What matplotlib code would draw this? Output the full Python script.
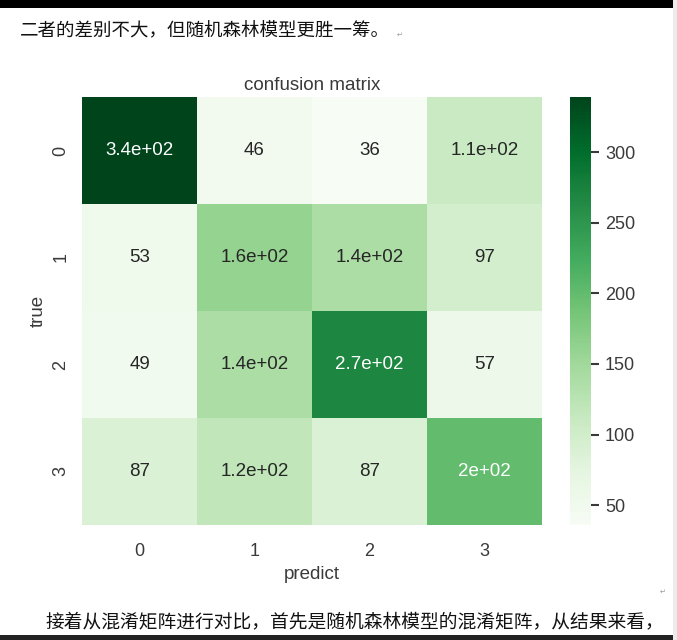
import matplotlib
matplotlib.use("Agg")
import matplotlib.pyplot as plt
import seaborn as sns
import numpy as np
from matplotlib.patches import Rectangle

# ---- data ----
labels = ["0", "1", "2", "3"]
row0 = [339, 46, 36, 110]
row1 = [53, 160, 140, 97]
row2 = [49, 140, 270, 57]
row3 = [87, 120, 87, 200]
cbar_ticks = [50, 100, 150, 200, 250, 300]
title = "confusion matrix"
xlabel = "predict"
ylabel = "true"
text_top = "二者的差别不大，但随机森林模型更胜一筹。"
text_bottom = "接着从混淆矩阵进行对比，首先是随机森林模型的混淆矩阵，从结果来看，"

cm = np.array([row0, row1, row2, row3])

plt.rcParams['font.family'] = ['Liberation Sans', 'DejaVu Sans']
W, H = 677, 640
fig = plt.figure(figsize=(W / 100, H / 100), dpi=100)
fig.patch.set_facecolor("white")

# page decorations (screenshot frame)
fig.patches.append(Rectangle((0, 1 - 8 / H), 673 / W, 8 / H, transform=fig.transFigure,
                             facecolor="black", edgecolor="none", zorder=0))
fig.patches.append(Rectangle((673 / W, 0), 4 / W, 1, transform=fig.transFigure,
                             facecolor="#ececec", edgecolor="none", zorder=0))
fig.patches.append(Rectangle((0, 0), 673 / W, 5 / H, transform=fig.transFigure,
                             facecolor="#222222", edgecolor="none", zorder=0))

ax = fig.add_axes([82 / W, 1 - 525 / H, 460 / W, 428 / H])
cax = fig.add_axes([570 / W, 1 - 525 / H, 21 / W, 428 / H])

sns.heatmap(cm, annot=True, cmap="Greens", ax=ax, cbar_ax=cax,
            xticklabels=labels, yticklabels=labels,
            annot_kws={"fontsize": 13.5})

gray = "#3a3a3a"
ax.set_title(title, fontsize=13.5, color=gray, pad=5)
ax.set_xlabel(xlabel, fontsize=13.5, color=gray, labelpad=4)
ax.set_ylabel(ylabel, fontsize=13.5, color=gray, labelpad=4)
ax.tick_params(axis="x", length=0, labelsize=13, labelcolor=gray, pad=13)
ax.tick_params(axis="y", length=0, labelsize=13, labelcolor=gray, pad=9)
for t in ax.get_yticklabels():
    t.set_rotation(90)
    t.set_va("center")
for t in ax.get_xticklabels():
    t.set_rotation(0)

cax.set_yticks(cbar_ticks)
cax.tick_params(axis="y", length=6, width=1.5, color=gray, labelsize=13,
                labelcolor=gray, pad=4)
for s in cax.spines.values():
    s.set_visible(False)

cjk = ['Noto Sans CJK SC', 'DejaVu Sans']
fig.text(20 / W, 1 - 31 / H, text_top, family=cjk, fontsize=13.3,
         color="#111111", va="center", ha="left")
fig.text(397 / W, 1 - 35 / H, "↵", family=['DejaVu Sans'], fontsize=5,
         color="#999999", va="center", ha="left")
fig.text(45 / W, 1 - 622 / H, text_bottom, family=cjk, fontsize=13.5,
         color="#111111", va="center", ha="left")
fig.text(660 / W, 1 - 592 / H, "↵", family=['DejaVu Sans'], fontsize=5,
         color="#999999", va="center", ha="left")

fig.savefig("out.png", dpi=100)
